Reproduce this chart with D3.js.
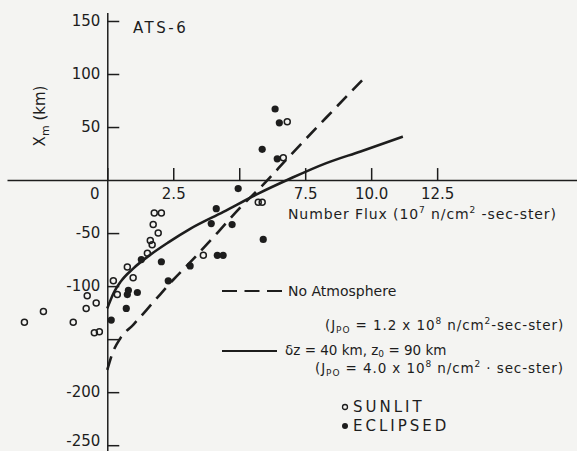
<!DOCTYPE html>
<html>
<head>
<meta charset="utf-8">
<script src="https://cdn.jsdelivr.net/npm/d3@7"></script>
<style>
  html, body { margin: 0; padding: 0; background: #f4f4f2; }
  svg { display: block; font-family: "DejaVu Sans", sans-serif; }
</style>
</head>
<body>
<svg class="chart"></svg>
<script>
// sunlit (open circles)
var sunlitX = [-3.14, -2.42, -1.29, -0.76, -0.80, -0.42, -0.49, -0.30, 0.23, 0.38, 0.76, 0.98,
               1.52, 1.63, 1.70, 1.93, 1.74, 1.78, 2.05, 3.64, 5.72, 5.87, 6.67, 6.82];
var sunlitY = [-134, -124, -134, -109, -121, -116, -144, -143, -95, -108, -82, -92,
               -69, -57, -61, -50, -42, -31, -31, -71, -21, -21, 21, 55];
// eclipsed (filled dots)
var eclipsedX = [0.15, 0.72, 0.76, 0.80, 1.14, 1.29, 2.05, 2.31, 3.14, 3.94, 4.13, 4.73,
                 4.17, 4.39, 4.96, 5.91, 5.87, 6.36, 6.44, 6.52];
var eclipsedY = [-132, -121, -108, -104, -106, -75, -77, -95, -81, -41, -27, -42,
                 -71, -71, -8, -56, 29, 67, 20, 54];
// curves
var noAtmX = [0, 0.2, 0.5, 1.0, 1.75, 2.5, 3.2, 4.2, 5.0, 6.0, 6.85, 8.3, 9.77];
var noAtmY = [-179, -163, -149, -136, -115, -94, -76, -49, -27, -2, 21, 59, 97];
var modelX = [0, 0.25, 0.5, 1.0, 1.6, 2.3, 3.14, 4.4, 5.7, 6.9, 8.3, 9.6, 11.2];
var modelY = [-121, -106, -96, -83, -71, -59, -46, -30, -13, 1, 16, 27, 41];
// ticks
var xTicks = [0, 2.5, 5, 7.5, 10, 12.5];
var xTickLabels = ["0", "2.5", "", "7.5", "10.0", "12.5"];
var yTicks = [150, 100, 50, -50, -100, -150, -200, -250];
var yTickLabels = ["150", "100", "50", "-50", "-100", "", "-200", "-250"];

function show() {
    'use strict';
    var width = 577, height = 451, ink = "#1d1d1d";

    var svg = d3.select(".chart")
        .attr("width", width)
        .attr("height", height);

    var x = d3.scaleLinear().domain([-3.8, 17.8]).range([7, 577]);
    var y = d3.scaleLinear().domain([-255, 158]).range([450.5, 12.5]);

    // x axis
    var gx = svg.append("g")
        .attr("transform", "translate(0," + y(0) + ")")
        .call(d3.axisBottom(x).tickValues(xTicks)
            .tickSizeInner(-12).tickSizeOuter(0).tickPadding(8)
            .tickFormat(function(d, i) { return xTickLabels[i]; }));
    gx.selectAll("text").filter(function(d) { return d === 0; }).attr("dx", -13);

    // y axis
    var gy = svg.append("g")
        .attr("transform", "translate(" + x(0) + ",0)")
        .call(d3.axisLeft(y).tickValues(yTicks)
            .tickSizeInner(-12).tickSizeOuter(0).tickPadding(7)
            .tickFormat(function(d, i) { return yTickLabels[i]; }));

    svg.selectAll(".domain, .tick line").attr("stroke", ink).attr("stroke-width", 1.5);
    svg.selectAll(".tick text")
        .attr("fill", ink)
        .style("font-family", "DejaVu Sans, sans-serif")
        .style("font-size", "15px");
    gy.selectAll("text").filter(function(d) { return d === -250; }).attr("dy", "0.02em");

    // curves
    var line = d3.line()
        .x(function(d) { return x(d[0]); })
        .y(function(d) { return y(d[1]); })
        .curve(d3.curveMonotoneX);

    svg.append("path")
        .datum(noAtmX.map(function(v, i) { return [v, noAtmY[i]]; }))
        .attr("d", line)
        .attr("fill", "none").attr("stroke", ink)
        .attr("stroke-width", 2.6).attr("stroke-dasharray", "14,8");

    svg.append("path")
        .datum(modelX.map(function(v, i) { return [v, modelY[i]]; }))
        .attr("d", line)
        .attr("fill", "none").attr("stroke", ink)
        .attr("stroke-width", 2.6);

    // points
    svg.selectAll("circle.sunlit")
        .data(sunlitX.map(function(v, i) { return [v, sunlitY[i]]; }))
        .enter().append("circle")
        .attr("class", "sunlit")
        .attr("cx", function(d) { return x(d[0]); })
        .attr("cy", function(d) { return y(d[1]); })
        .attr("r", 3)
        .attr("fill", "none").attr("stroke", ink).attr("stroke-width", 1.5);

    svg.selectAll("circle.eclipsed")
        .data(eclipsedX.map(function(v, i) { return [v, eclipsedY[i]]; }))
        .enter().append("circle")
        .attr("class", "eclipsed")
        .attr("cx", function(d) { return x(d[0]); })
        .attr("cy", function(d) { return y(d[1]); })
        .attr("r", 3.6)
        .attr("fill", ink);

    // labels
    svg.append("text")
        .attr("x", 133).attr("y", 33)
        .attr("fill", ink).style("font-size", "15px").style("letter-spacing", "2.5px")
        .text("ATS-6");

    var yl = svg.append("text")
        .attr("transform", "translate(45,116) rotate(-90)")
        .attr("text-anchor", "middle")
        .attr("fill", ink).style("font-size", "15px");
    yl.append("tspan").text("X");
    yl.append("tspan").attr("dy", 4).style("font-size", "11px").text("m");
    yl.append("tspan").attr("dy", -4).text(" (km)");

    var xl = svg.append("text")
        .attr("x", 288).attr("y", 219)
        .attr("fill", ink).style("font-size", "14px").style("letter-spacing", "0.9px");
    xl.append("tspan").text("Number Flux (10");
    xl.append("tspan").attr("dy", -6).style("font-size", "9px").text("7");
    xl.append("tspan").attr("dy", 6).text(" n/cm");
    xl.append("tspan").attr("dy", -6).style("font-size", "9px").text("2");
    xl.append("tspan").attr("dy", 6).text(" -sec-ster)");

    // legend
    var lg = svg.append("g").attr("fill", ink).style("font-size", "14px");
    lg.append("line").attr("x1", 222).attr("x2", 282).attr("y1", 291).attr("y2", 291)
        .attr("stroke", ink).attr("stroke-width", 2).attr("stroke-dasharray", "15,7.5");
    lg.append("text").attr("x", 288).attr("y", 296).text("No Atmosphere");

    function jpo(t, yy, val, sep) {
        t.attr("y", yy).style("font-size", "13.5px").style("letter-spacing", "0.9px");
        t.append("tspan").text("(J");
        t.append("tspan").attr("dy", 3).style("font-size", "9px").text("PO");
        t.append("tspan").attr("dy", -3).text(" = " + val + " x 10");
        t.append("tspan").attr("dy", -6).style("font-size", "9px").text("8");
        t.append("tspan").attr("dy", 6).text(" n/cm");
        t.append("tspan").attr("dy", -6).style("font-size", "9px").text("2");
        t.append("tspan").attr("dy", 6).text(sep + "sec-ster)");
    }
    jpo(lg.append("text").attr("x", 325), 330, "1.2", "-");

    lg.append("line").attr("x1", 222).attr("x2", 277).attr("y1", 351).attr("y2", 351)
        .attr("stroke", ink).attr("stroke-width", 2);
    var dz = lg.append("text").attr("x", 285).attr("y", 355).style("font-size", "13.5px");
    dz.append("tspan").text("δz = 40 km, z");
    dz.append("tspan").attr("dy", 2).style("font-size", "9px").text("0");
    dz.append("tspan").attr("dy", -2).text(" = 90 km");

    jpo(lg.append("text").attr("x", 315), 373, "4.0", " · ");

    lg.append("circle").attr("cx", 345).attr("cy", 407).attr("r", 2.5)
        .attr("fill", "none").attr("stroke", ink).attr("stroke-width", 1.3);
    lg.append("text").attr("x", 353).attr("y", 412)
        .style("font-size", "15px").style("letter-spacing", "3px").text("SUNLIT");
    lg.append("circle").attr("cx", 345).attr("cy", 426).attr("r", 3).attr("fill", ink);
    lg.append("text").attr("x", 353).attr("y", 431)
        .style("font-size", "15px").style("letter-spacing", "3px").text("ECLIPSED");
}
show();
</script>
</body>
</html>
